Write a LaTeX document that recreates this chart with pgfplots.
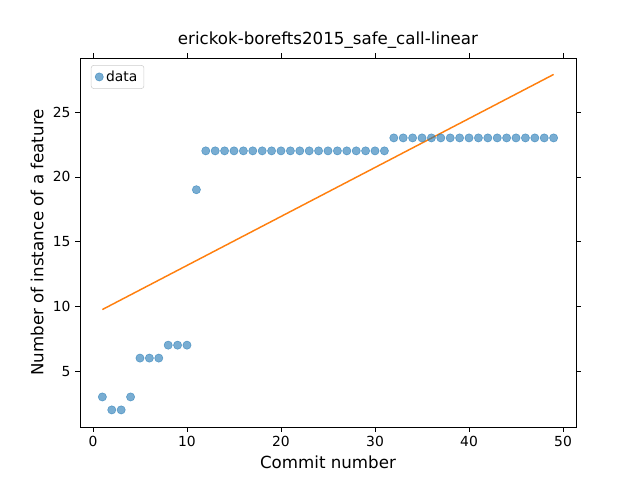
\documentclass[border=0pt]{standalone}
\usepackage{pgfplots}
\pgfplotsset{compat=1.18}
\usepackage{fontspec}
\setmainfont{DejaVu Sans}
\definecolor{tblue}{HTML}{1F77B4}
\definecolor{torange}{HTML}{FF7F0E}
\begin{document}
\begin{tikzpicture}
\begin{axis}[name=a, at={(0,0)}, anchor=south west,
 scale only axis, width=372pt, height=276.75pt,
 xmin=-1.38, xmax=51.38, ymin=0.68, ymax=29.17,
 xtick={0,10,20,30,40,50}, ytick={5,10,15,20,25},
 tick align=outside, tick style={black}, major tick length=3.6pt,
 /pgf/number format/assume math mode=true,
 tick label style={font=\fontsize{10.4}{12}\selectfont},
 title={erickok-borefts2015\_safe\_call-linear},
 title style={font=\fontsize{12.5}{14}\selectfont, yshift=-2pt},
 xlabel={Commit number}, ylabel={Number of instance of a feature},
 label style={font=\fontsize{12.5}{14}\selectfont},
 legend pos=north west,
 legend style={font=\fontsize{10.4}{12}\selectfont, draw=black!20, rounded corners=2pt, xshift=-3pt, yshift=3pt},
 legend cell align=left,
]
\addplot[only marks, mark=*, mark size=3.1pt, draw=tblue, fill=tblue, opacity=0.6] coordinates {
(1,3)(2,2)(3,2)(4,3)(5,6)(6,6)(7,6)(8,7)(9,7)(10,7)(11,19)
(12,22)(13,22)(14,22)(15,22)(16,22)(17,22)(18,22)(19,22)(20,22)(21,22)
(22,22)(23,22)(24,22)(25,22)(26,22)(27,22)(28,22)(29,22)(30,22)(31,22)
(32,23)(33,23)(34,23)(35,23)(36,23)(37,23)(38,23)(39,23)(40,23)(41,23)
(42,23)(43,23)(44,23)(45,23)(46,23)(47,23)(48,23)(49,23)};
\addlegendentry{data}
\addplot[torange, line width=1.1pt, forget plot] coordinates {(1,9.75)(49,27.9)};
\end{axis}
\pgfresetboundingbox
\path[use as bounding box] (-60pt,-39.75pt) rectangle (420pt,320.25pt);
\end{tikzpicture}
\end{document}
